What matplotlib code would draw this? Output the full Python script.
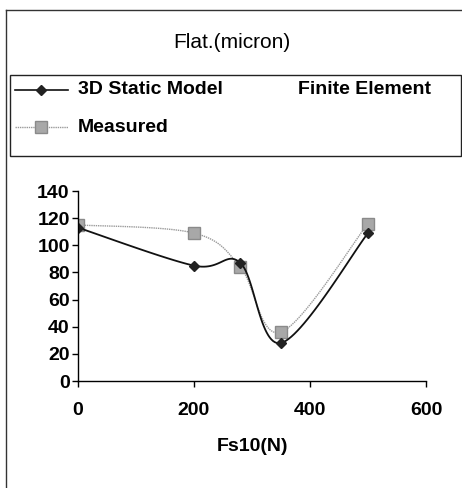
import numpy as np
import matplotlib
matplotlib.use("Agg")
import matplotlib.pyplot as plt
from matplotlib.lines import Line2D
from matplotlib.patches import Rectangle

# data
force = [0, 200, 280, 350, 500]
static_model = [113, 85, 87, 28, 109]
measured = [115, 109, 84, 36, 116]

x_ticks = [0, 200, 400, 600]
y_ticks = [0, 20, 40, 60, 80, 100, 120, 140]

plt.rcParams['font.family'] = ['Liberation Sans', 'DejaVu Sans']

W, H = 462, 488
fig = plt.figure(figsize=(W / 100, H / 100), dpi=100)


def fx(px):
    return px / W


def fy(py):
    return 1 - py / H


def smooth(xs, ys, sx=600.0 / 348, sy=140.0 / 190, n=30):
    # Excel-like bezier smoothing in screen units (drawing only)
    p = np.column_stack([np.asarray(xs, float) / sx, np.asarray(ys, float) / sy])
    out = [p[0]]
    for i in range(len(p) - 1):
        p0 = p[i - 1] if i > 0 else p[i]
        p1, p2 = p[i], p[i + 1]
        p3 = p[i + 2] if i + 2 < len(p) else p[i + 1]
        c1 = p1 + (p2 - p0) / 6
        c2 = p2 - (p3 - p1) / 6
        t = np.linspace(0, 1, n)[1:, None]
        seg = (1 - t) ** 3 * p1 + 3 * (1 - t) ** 2 * t * c1 + 3 * (1 - t) * t ** 2 * c2 + t ** 3 * p2
        out.extend(seg)
    out = np.array(out)
    return out[:, 0] * sx, out[:, 1] * sy


ax = fig.add_axes([fx(78), fy(381), fx(426) - fx(78), fy(191) - fy(381)])

mx, my = smooth(force, measured)
ax.plot(mx, my, color='#9a9a9a', lw=1.0, ls=(0, (1, 0.6)))
ax.plot(force, measured, ls='none', marker='s', ms=8, mfc='#a8a8a8', mec='#8a8a8a', mew=1)

sx_, sy_ = smooth(force, static_model)
ax.plot(sx_, sy_, color='#111111', lw=1.3)
ax.plot(force, static_model, ls='none', marker='D', ms=5, mfc='#222222', mec='#222222')

ax.set_xlim(0, 600)
ax.set_ylim(0, 140)
ax.set_xticks(x_ticks)
ax.set_yticks(y_ticks)
for s in ['top', 'right']:
    ax.spines[s].set_visible(False)
for s in ['left', 'bottom']:
    ax.spines[s].set_linewidth(1.0)
ax.tick_params(axis='both', direction='out', length=4, width=1, labelsize=14)
ax.tick_params(axis='x', pad=11)
ax.tick_params(axis='y', pad=2)
for lab in ax.get_xticklabels() + ax.get_yticklabels():
    lab.set_fontweight('bold')
ax.set_xlabel('Fs10(N)', fontsize=14, fontweight='bold', labelpad=14)

# outer frame (left and top edges only)
fig.add_artist(Line2D([fx(6), 1.0], [fy(10), fy(10)], color='#333333', lw=1))
fig.add_artist(Line2D([fx(6), fx(6)], [fy(10), 0.0], color='#333333', lw=1))

fig.text(fx(232), fy(43), 'Flat.(micron)', ha='center', va='center', fontsize=15)

# legend box
fig.add_artist(Rectangle((fx(10), fy(156)), fx(461) - fx(10), fy(75) - fy(156),
                         transform=fig.transFigure, fill=False, ec='#222222', lw=1))
fig.add_artist(Line2D([fx(15), fx(68)], [fy(90), fy(90)], color='#111111', lw=1.2))
fig.add_artist(Line2D([fx(41)], [fy(90)], ls='none', marker='D', ms=5, mfc='#222222', mec='#222222'))
fig.add_artist(Line2D([fx(15), fx(68)], [fy(127), fy(127)], color='#9a9a9a', lw=1, ls=(0, (1, 0.6))))
fig.add_artist(Line2D([fx(41)], [fy(127)], ls='none', marker='s', ms=8, mfc='#a8a8a8', mec='#8a8a8a'))
fig.text(fx(78), fy(90), '3D Static Model', va='center', fontsize=14, fontweight='bold')
fig.text(fx(298), fy(90), 'Finite Element', va='center', fontsize=14, fontweight='bold')
fig.text(fx(78), fy(127), 'Measured', va='center', fontsize=14, fontweight='bold')

fig.savefig('out.png', dpi=100)
